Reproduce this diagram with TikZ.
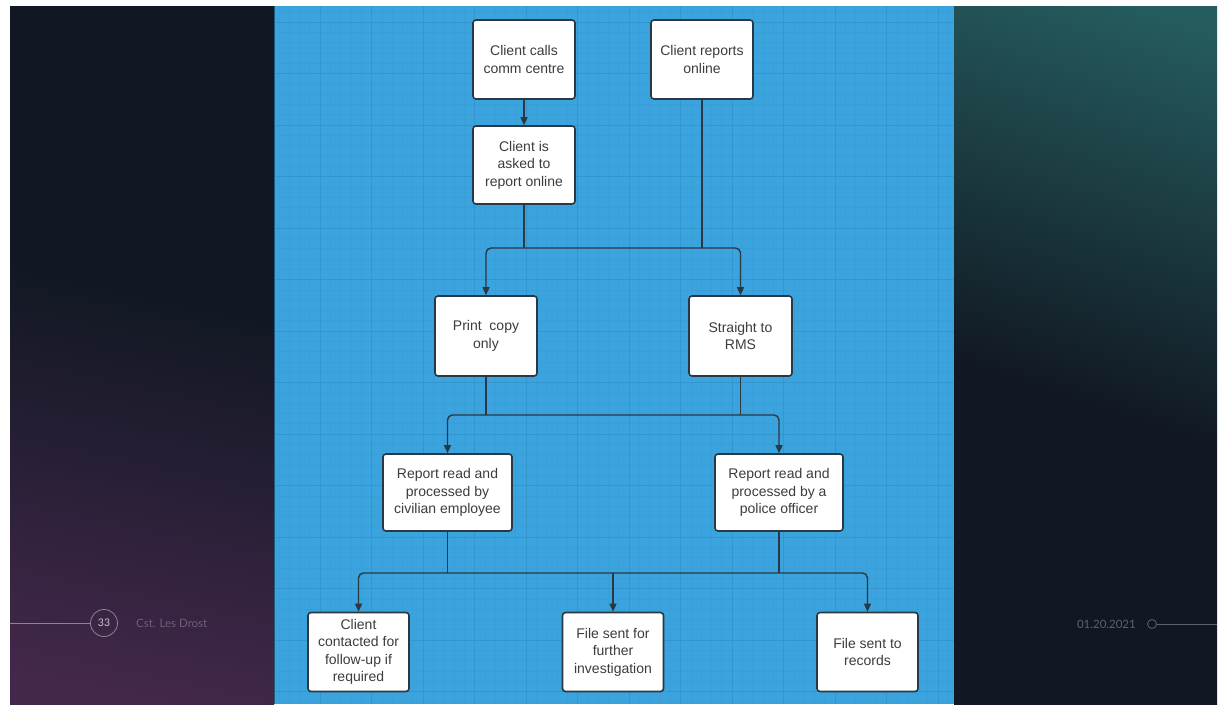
\documentclass[tikz,border=0pt]{standalone}
\usepackage{fontspec}
\setmainfont{Liberation Sans}
\newfontfamily\footfont{Lato}
\usetikzlibrary{arrows.meta}
\definecolor{bluebg}{HTML}{3BA3DD}
\definecolor{gridmaj}{HTML}{3595CD}
\definecolor{gridmin}{HTML}{399FD9}
\definecolor{darkbg}{HTML}{111823}
\definecolor{purplebg}{HTML}{44284C}
\definecolor{tealbg}{HTML}{255D5E}
\definecolor{linec}{HTML}{2A3843}
\definecolor{txtc}{HTML}{3C3C3C}
\definecolor{footl}{HTML}{8E8298}
\definecolor{footr}{HTML}{5A626C}
\definecolor{edgec}{HTML}{1E5A82}
\pgfdeclareverticalshading{leftsh}{100bp}{color(0bp)=(purplebg); color(22bp)=(purplebg); color(55bp)=(darkbg); color(100bp)=(darkbg)}
\pgfdeclareverticalshading{rightsh}{100bp}{color(0bp)=(darkbg); color(46bp)=(darkbg); color(80bp)=(tealbg); color(100bp)=(tealbg)}
\tikzset{
  fbox/.style={draw=linec, fill=white, line width=1.6pt, rounded corners=3pt,
    align=center, text=txtc, font=\fontsize{14}{17.5}\selectfont, inner sep=0pt},
  conn/.style={draw=linec, line width=1.4pt, rounded corners=5pt},
  tip/.style={-{Triangle[length=8pt,width=7pt]}},
  tips/.style={{Triangle[length=8pt,width=7pt]}-{Triangle[length=8pt,width=7pt]}},
  foottext/.style={font=\footfont\fontsize{11.5}{13}\selectfont, inner sep=0pt},
}
\begin{document}
\begin{tikzpicture}[x=1pt,y=-1pt]
\useasboundingbox (0,0) rectangle (1222,704);
\fill[white] (0,0) rectangle (1222,704);
% side panels
\shade[shading=leftsh, shading angle=-12] (10,6) rectangle (274,704);
\shade[shading=rightsh, shading angle=-18] (954,6) rectangle (1217,704);
% blue board with grid
\fill[bluebg] (274,6) rectangle (954,704);
\begin{scope}
  \clip (274,6) rectangle (954,704);
  \foreach \j in {-4,...,61} \draw[gridmin, line width=0.5pt] (320+\j*10.3,6) -- ++(0,698);
  \foreach \j in {-1,...,66} \draw[gridmin, line width=0.5pt] (274,22+\j*10.3) -- ++(680,0);
  \foreach \i in {0,...,12} \draw[gridmaj, line width=0.7pt] (320+\i*51.5,6) -- ++(0,698);
  \foreach \i in {0,...,13} \draw[gridmaj, line width=0.7pt] (274,22+\i*51.5) -- ++(680,0);
\end{scope}
\draw[edgec, line width=1pt] (274.5,6) -- (274.5,704);
% nodes
\node[fbox, minimum width=102pt, minimum height=79pt] (n1) at (524,59.5) {Client calls\\comm centre};
\node[fbox, minimum width=102pt, minimum height=79pt] (n2) at (702,59.5) {Client reports\\online};
\node[fbox, minimum width=102pt, minimum height=78pt] (n3) at (524,165) {Client is\\asked to\\report online};
\node[fbox, minimum width=102pt, minimum height=80pt] (n4) at (486,336) {Print~ copy\\only};
\node[fbox, minimum width=103pt, minimum height=80pt] (n5) at (740.5,336) {Straight to\\RMS};
\node[fbox, minimum width=129pt, minimum height=77pt] (n6) at (447.5,492.5) {Report read and\\processed by\\civilian employee};
\node[fbox, minimum width=128pt, minimum height=77pt] (n7) at (779,492.5) {Report read and\\processed by a\\police officer};
\node[fbox, minimum width=101pt, minimum height=79pt] (n8) at (358.5,652) {Client\\contacted for\\follow-up if\\required};
\node[fbox, minimum width=101pt, minimum height=79pt] (n9) at (613,652) {File sent for\\further\\investigation};
\node[fbox, minimum width=101pt, minimum height=79pt] (n10) at (867.5,652) {File sent to\\records};
% bus coordinates
\coordinate (b1) at (613,248);
\coordinate (b2) at (613,415);
\coordinate (b3) at (613,573);
% connectors
\draw[conn, tip] (n1.south) -- (n3.north);
\draw[conn] (n3.south) -- (n3.south |- b1);
\draw[conn] (n2.south) -- (n2.south |- b1);
\draw[conn, tips] (n4.north) |- (b1) -| (n5.north);
\draw[conn] (n4.south) -- (n4.south |- b2);
\draw[conn] (n5.south) -- (n5.south |- b2);
\draw[conn, tips] (n6.north) |- (b2) -| (n7.north);
\draw[conn] (n6.south) -- (n6.south |- b3);
\draw[conn] (n7.south) -- (n7.south |- b3);
\draw[conn, tips] (n8.north) |- (b3) -| (n10.north);
\draw[conn, tip] (b3) -- (n9.north);
% footer left
\coordinate (fl) at (10,623);
\node[circle, draw=footl, line width=0.8pt, minimum size=27pt, inner sep=0pt,
      text={rgb,255:red,205;green,198;blue,210}, font=\footfont\fontsize{10.5}{12}\selectfont] (pg) at (104,623) {33};
\draw[footl, line width=0.8pt] (fl) -- (pg.west);
\node[anchor=west, text={rgb,255:red,108;green,96;blue,118}, foottext] (au) at (136,623) {Cst. Les Drost};
% footer right
\node[anchor=east, text=footr, foottext] (dt) at (1136,624) {01.20.2021};
\node[circle, draw=footr, line width=0.8pt, minimum size=9pt, inner sep=0pt] (dc) at (1152,624) {};
\coordinate (fr) at (1217,624);
\draw[footr, line width=0.8pt] (dc.east) -- (fr);
\end{tikzpicture}
\end{document}
